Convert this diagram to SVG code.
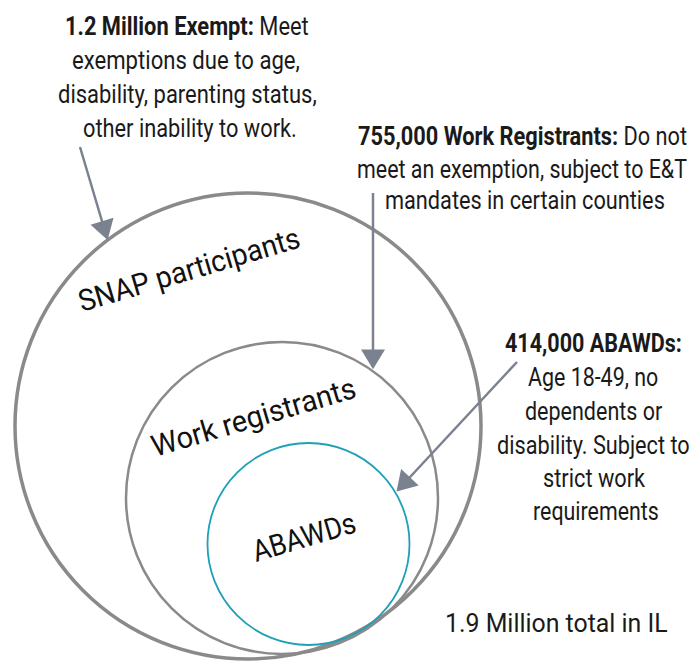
<svg xmlns="http://www.w3.org/2000/svg" width="695" height="661" viewBox="0 0 695 661">
  <style>
    .note { font-family: Roboto, "Liberation Sans", sans-serif; font-size: 25px; fill: #1a1a1a; }
    .note .b { font-weight: bold; }
    .ring-label { font-family: Roboto, "Liberation Sans", sans-serif; font-size: 30px; fill: #111; }
    .ring { fill: none; stroke: #8a8a8a; }
    .pointer { stroke: #7a8290; stroke-width: 2.5; fill: none; }
  </style>
  <defs>
    <marker id="head" markerUnits="userSpaceOnUse" markerWidth="24" markerHeight="24" viewBox="0 0 18 22" refX="16" refY="11" orient="auto">
      <path d="M0,0 L18,11 L0,22 Z" fill="#7a8290"/>
    </marker>
  </defs>
  <rect width="695" height="661" fill="#ffffff"/>

  <!-- nested population circles -->
  <g id="snap">
    <circle class="ring" cx="248" cy="426" r="233" stroke-width="3.5"/>
    <text class="ring-label" transform="translate(82 312) rotate(-16.5) scale(0.9 1)" textLength="255" lengthAdjust="spacingAndGlyphs">SNAP participants</text>
  </g>
  <g id="work-registrants">
    <circle class="ring" cx="282" cy="498" r="156" stroke-width="2.5"/>
    <text class="ring-label" transform="translate(155 457) rotate(-16.5) scale(0.9 1)" textLength="235" lengthAdjust="spacingAndGlyphs">Work registrants</text>
  </g>
  <g id="abawds">
    <circle cx="308.5" cy="544" r="101" fill="none" stroke="#1ea0b6" stroke-width="1.8"/>
    <text class="ring-label" transform="translate(256 562) rotate(-16.5) scale(0.9 1)" textLength="118" lengthAdjust="spacingAndGlyphs">ABAWDs</text>
  </g>

  <!-- callout notes (condensed by a horizontal scale of 0.88) -->
  <g id="note-exempt" class="note">
    <text transform="translate(65 35) scale(0.88 1)" textLength="277" lengthAdjust="spacingAndGlyphs"><tspan class="b">1.2 Million Exempt:</tspan> Meet</text>
    <text transform="translate(72 69) scale(0.88 1)" textLength="259" lengthAdjust="spacingAndGlyphs">exemptions due to age,</text>
    <text transform="translate(58 103) scale(0.88 1)" textLength="294" lengthAdjust="spacingAndGlyphs">disability, parenting status,</text>
    <text transform="translate(83 137) scale(0.88 1)" textLength="243" lengthAdjust="spacingAndGlyphs">other inability to work.</text>
  </g>
  <g id="note-registrants" class="note">
    <text transform="translate(358 145) scale(0.88 1)" textLength="374" lengthAdjust="spacingAndGlyphs"><tspan class="b">755,000 Work Registrants:</tspan> Do not</text>
    <text transform="translate(357 178) scale(0.88 1)" textLength="375" lengthAdjust="spacingAndGlyphs">meet an exemption, subject to E&amp;T</text>
    <text transform="translate(385 209) scale(0.88 1)" textLength="318" lengthAdjust="spacingAndGlyphs">mandates in certain counties</text>
  </g>
  <g id="note-abawds" class="note">
    <text class="b" transform="translate(505 352) scale(0.88 1)" textLength="201" lengthAdjust="spacingAndGlyphs">414,000 ABAWDs:</text>
    <text transform="translate(528 386) scale(0.88 1)" textLength="148" lengthAdjust="spacingAndGlyphs">Age 18-49, no</text>
    <text transform="translate(525 420) scale(0.88 1)" textLength="156" lengthAdjust="spacingAndGlyphs">dependents or</text>
    <text transform="translate(497 454) scale(0.88 1)" textLength="219" lengthAdjust="spacingAndGlyphs">disability. Subject to</text>
    <text transform="translate(543 487) scale(0.88 1)" textLength="116" lengthAdjust="spacingAndGlyphs">strict work</text>
    <text transform="translate(533 520) scale(0.88 1)" textLength="143" lengthAdjust="spacingAndGlyphs">requirements</text>
  </g>
  <g id="total" class="note">
    <text transform="translate(445 632) scale(0.88 1)" textLength="253" lengthAdjust="spacingAndGlyphs">1.9 Million total in IL</text>
  </g>

  <!-- pointers -->
  <g id="connectors">
    <line class="pointer" x1="80" y1="147" x2="107" y2="238" marker-end="url(#head)"/>
    <line class="pointer" x1="373" y1="193" x2="373" y2="367" marker-end="url(#head)"/>
    <line class="pointer" x1="517" y1="362" x2="398" y2="490" marker-end="url(#head)"/>
  </g>
</svg>
